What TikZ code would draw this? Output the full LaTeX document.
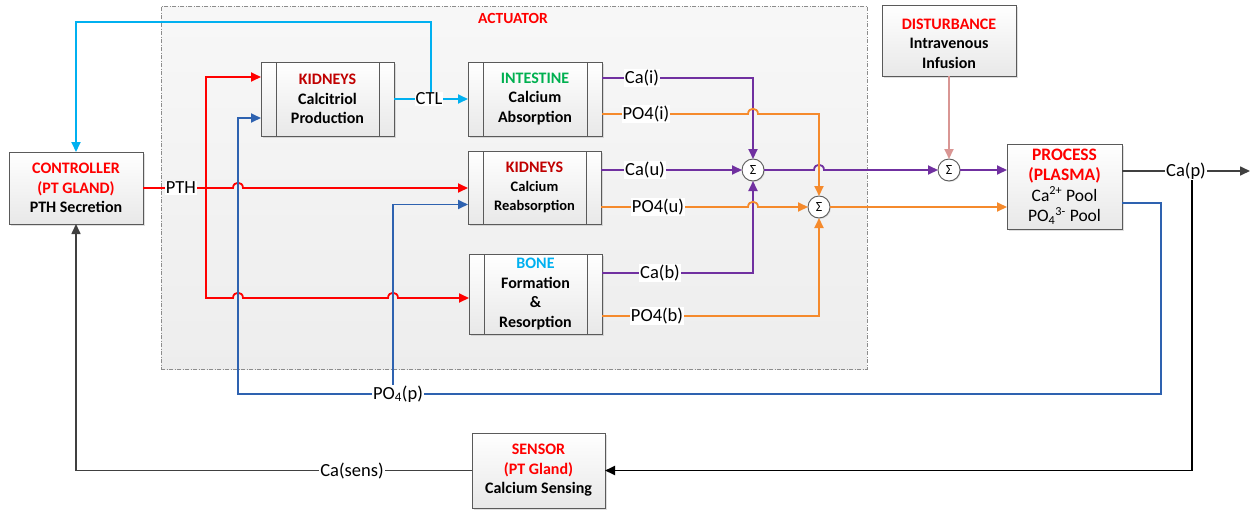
\documentclass[tikz,border=0pt]{standalone}
\usepackage{fontspec}
\setmainfont{Carlito}
\usetikzlibrary{arrows.meta,calc,shadows}
\definecolor{cred}{HTML}{FF0000}
\definecolor{kred}{HTML}{C00000}
\definecolor{cgreen}{HTML}{00B050}
\definecolor{ccyan}{HTML}{00B0F0}
\definecolor{cpurple}{HTML}{7030A0}
\definecolor{corange}{HTML}{F58A2C}
\definecolor{cblue}{HTML}{2E62B0}
\definecolor{cpink}{HTML}{D99694}
\definecolor{cgray}{HTML}{404040}
\definecolor{bordergray}{HTML}{5A5A5A}
\newcommand{\linejump}[2]{-- (#1-5,#2) .. controls (#1-5,#2-7) and (#1+5,#2-7) .. (#1+5,#2)}
\begin{document}
\begin{tikzpicture}[x=1pt,y=-1pt,
  box/.style={draw=bordergray, line width=0.9pt, top color=white, bottom color=black!9,
    drop shadow={shadow xshift=2pt,shadow yshift=-2pt,opacity=0.25},
    align=center, font=\fontsize{16}{19.5}\selectfont\bfseries, inner sep=0pt, outer sep=0pt},
  boxtext/.style={align=center, font=\fontsize{16}{19.5}\selectfont\bfseries, inner sep=0pt},
  actbox/.style={draw=black!45, line width=0.8pt, dash pattern=on 4pt off 1.5pt on 1pt off 1.5pt,
    top color=black!3, bottom color=black!7, inner sep=0pt, outer sep=0pt},
  acttitle/.style={text=cred, font=\fontsize{15.5}{18}\selectfont\bfseries},
  inner/.style={draw=bordergray, line width=0.9pt},
  sumnode/.style={circle, draw=bordergray, line width=0.9pt, fill=white, minimum size=22pt, inner sep=0pt, outer sep=0pt,
    font=\fontsize{14}{14}\selectfont, drop shadow={shadow xshift=1pt,shadow yshift=-1pt,opacity=0.2}},
  lab/.style={fill=white, inner sep=1pt, font=\fontsize{18.5}{20}\selectfont},
  arr/.style={-{Triangle[length=10pt,width=9pt]}},
  redl/.style={draw=cred, line width=1.8pt},
  bluel/.style={draw=cblue, line width=1.8pt},
  cyanl/.style={draw=ccyan, line width=1.8pt},
  purl/.style={draw=cpurple, line width=1.8pt},
  orl/.style={draw=corange, line width=1.8pt},
  pinkl/.style={draw=cpink, line width=1.8pt},
  grayl/.style={draw=cgray, line width=1.6pt},
  blackl/.style={draw=black, line width=1.9pt},
]
\useasboundingbox (0,0) rectangle (1255,509);
% actuator background
\node[actbox, minimum width=706pt, minimum height=363pt] (act) at (514,187.5) {};
\node[acttitle] (actl) at (513,18) {ACTUATOR};

% blocks
\node[box, minimum width=134pt, minimum height=72pt] (ctrl) at (76,188)
  {\textcolor{cred}{CONTROLLER}\\\textcolor{cred}{(PT GLAND)}\\PTH Secretion};
\node[box, minimum width=133pt, minimum height=74pt] (kc) at (327.5,99)
  {\textcolor{kred}{KIDNEYS}\\Calcitriol\\Production};
\node[box, minimum width=134pt, minimum height=74pt] (int) at (535,99)
  {\textcolor{cgreen}{INTESTINE}\\Calcium\\Absorption};
\node[box, minimum width=133pt, minimum height=73pt, font=\fontsize{14.5}{19}\selectfont\bfseries] (reab) at (534.5,187.5)
  {\textcolor{kred}{\fontsize{16}{19}\selectfont KIDNEYS}\\Calcium\\Reabsorption};
\node[box, minimum width=133pt, minimum height=80pt] (bone) at (535.5,294)
  {\textcolor{ccyan}{BONE}\\Formation\\\&\\Resorption};
\node[box, minimum width=134pt, minimum height=71pt] (dist) at (949,40.5) {};
\node[boxtext] (distt) at (949,43.5)
  {\textcolor{cred}{DISTURBANCE}\\Intravenous\\Infusion};
\node[box, minimum width=115pt, minimum height=85pt, font=\fontsize{17.5}{20.5}\selectfont\bfseries] (proc) at (1064.5,186.5)
  {\textcolor{cred}{PROCESS}\\\textcolor{cred}{(PLASMA)}\\{\mdseries Ca\textsuperscript{2+} Pool}\\{\mdseries PO\textsubscript{4}\textsuperscript{3-} Pool}};
\node[box, minimum width=133pt, minimum height=75pt] (sens) at (538.5,470.5)
  {\textcolor{cred}{SENSOR}\\\textcolor{cred}{(PT Gland)}\\Calcium Sensing};
\foreach \n in {kc,int,reab,bone}{
  \draw[inner] ($(\n.north west)+(15,0)$) -- ($(\n.south west)+(15,0)$);
  \draw[inner] ($(\n.north east)+(-15,0)$) -- ($(\n.south east)+(-15,0)$);
}
% summing junctions
\node[sumnode] (s1) at (753,170) {Σ};
\node[sumnode] (s2) at (819,207) {Σ};
\node[sumnode] (s3) at (949,170) {Σ};

% coordinates
\coordinate (pthj) at (206,188);
\coordinate (pb) at (1161,203);
\coordinate (bl) at (238,394);
\coordinate (bm) at (393,394);
\coordinate (ctlj) at (431,99);
\coordinate (ctop) at (431,22);
\coordinate (cpj) at (1192,171);
\coordinate (cpe) at (1250,171);

% red PTH
\draw[redl,arr] (ctrl.east) -- (pthj) \linejump{238}{188} -- (reab.west |- pthj);
\draw[redl,arr] (pthj) |- ($(kc.west)+(0,-22)$);
\draw[redl,arr] (pthj) -- (206,298) \linejump{238}{298} \linejump{393}{298} -- ($(bone.west)+(0,4)$);
% blue PO4(p)
\draw[bluel,arr] ($(proc.east)+(0,16.5)$) -- (pb) |- (bl) |- ($(kc.west)+(0,19)$);
\draw[bluel,arr] (bm) |- ($(reab.west)+(0,17)$);
% cyan CTL
\draw[cyanl,arr] (kc.east) -- (int.west);
\draw[cyanl,arr] (ctlj) -- (ctop) -| (ctrl.north);
% purple Ca
\draw[purl,arr] ($(int.east)+(0,-21)$) -| (s1.north);
\draw[purl,arr] ($(reab.east)+(0,-17.5)$) -- (s1.west);
\draw[purl,arr] ($(bone.east)+(0,-21)$) -| (s1.south);
\draw[purl,arr] (s1.east) \linejump{819}{170} -- (s3.west);
\draw[purl,arr] (s3.east) -- (proc.west |- s3);
% orange PO4
\draw[orl,arr] ($(int.east)+(0,15)$) \linejump{753}{114} -- (819,114) -- (s2.north);
\draw[orl,arr] ($(reab.east)+(0,19.5)$) \linejump{753}{207} -- (s2.west);
\draw[orl,arr] ($(bone.east)+(0,22)$) -| (s2.south);
\draw[orl,arr] (s2.east) -- (proc.west |- s2);
% disturbance
\draw[pinkl,arr] (dist.south) -- (s3.north);
% output and feedback
\draw[grayl,arr] ($(proc.east)+(0,-15.5)$) -- (cpe);
\draw[blackl,arr] (cpj) |- (sens.east);
\draw[grayl,arr] (sens.west) -| (ctrl.south);

% line labels
\node[lab] (lpth) at (181,188) {PTH};
\node[lab] (lctl) at (429,99) {CTL};
\node[lab] (lcai) at (642,78) {Ca(i)};
\node[lab] (lpoi) at (646,114) {PO4(i)};
\node[lab] (lcau) at (645,170) {Ca(u)};
\node[lab] (lpou) at (658,207) {PO4(u)};
\node[lab] (lcab) at (660,273) {Ca(b)};
\node[lab] (lpob) at (657,316) {PO4(b)};
\node[lab] (lcap) at (1186,171) {Ca(p)};
\node[lab] (lpop) at (398,394) {PO\textsubscript{4}(p)};
\node[lab] (lcas) at (352,471) {Ca(sens)};
\end{tikzpicture}
\end{document}
